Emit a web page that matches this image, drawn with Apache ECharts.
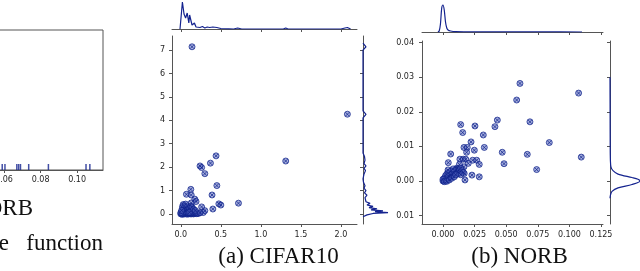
<!DOCTYPE html>
<html><head><meta charset="utf-8">
<script src="https://cdn.jsdelivr.net/npm/echarts@6/dist/echarts.min.js"></script>
<style>html,body{margin:0;padding:0;background:#fff}#c{width:640px;height:271px}</style>
</head><body><div id="c"></div>
<script>
// ---- data ----
const leftRug = [0.059, 0.0605, 0.067, 0.068, 0.069, 0.0735, 0.0843, 0.1049, 0.107];
const leftTicks = [0.00, 0.02, 0.04, 0.06, 0.08, 0.10];

const cifarX = [0.14,2.08,1.31,0.44,0.37,0.24,0.26,0.30,0.45,0.125,0.07,0.13,0.39,0.175,0.19,0.13,0.475,0.50,0.72,0.26,0.30,0.40,0.28,
  0.00,0.01,0.02,0.03,0.04,0.05,0.06,0.07,0.08,0.09,0.10,0.11,0.12,0.13,0.14,0.15,0.16,0.17,0.18,0.20,0.22,
  0.01,0.02,0.03,0.04,0.05,0.06,0.07,0.08,0.09,0.10,0.11,0.12,0.13,0.14,0.15,0.16,0.03,0.05,0.04,0.06,0.07,0.08,0.02,0.09,0.10,0.11,0.13,0.12,
  0.15,0.17,0.19,0.21,0.24,0.02,0.00,0.01,0.03,0.06,0.09,0.11,0.14,0.16,0.18];
const cifarY = [7.14,4.26,2.26,2.48,2.17,2.05,1.98,1.72,1.21,1.05,0.84,0.81,0.81,0.63,0.53,0.47,0.43,0.38,0.46,0.30,0.14,0.21,0.06,
  0.00,0.02,-0.02,0.01,0.03,0.00,0.02,0.01,-0.01,0.02,0.00,0.03,0.01,0.00,0.02,0.01,0.00,0.03,0.02,0.01,0.02,
  0.08,0.12,0.06,0.15,0.10,0.18,0.08,0.12,0.16,0.09,0.14,0.20,0.11,0.07,0.16,0.12,0.22,0.28,0.35,0.32,0.25,0.30,0.30,0.22,0.27,0.24,0.26,0.33,
  0.08,0.10,0.06,0.04,0.05,0.04,0.05,0.15,0.40,0.42,0.05,0.07,0.30,0.20,0.15];
const cifarXTicks = [0, 0.5, 1, 1.5, 2];
const cifarYTicks = [0, 1, 2, 3, 4, 5, 6, 7];
const cifarTopX = [-0.01,0.0,0.02,0.04,0.06,0.08,0.10,0.11,0.14,0.17,0.19,0.21,0.24,0.27,0.30,0.33,0.36,0.40,0.45,0.50,0.60,0.66,0.71,0.76,1.2,1.28,1.31,1.34,2.0,2.05,2.08,2.12];
const cifarTopD = [0,2,27,15,11,16,6,14,4,6,2,3,1.5,2.5,1,2,1.5,2,1.5,0.5,0.2,0,1,0,0,0,1,0,0,1,1.5,0];
const cifarRightY = [-0.12,-0.04,0.02,0.06,0.10,0.13,0.17,0.22,0.27,0.32,0.38,0.45,0.52,0.60,0.70,0.80,0.90,1.0,1.1,1.2,1.35,1.5,1.7,1.85,1.95,2.05,2.15,2.3,2.45,2.6,4.1,4.25,4.4,7.0,7.14,7.3];
const cifarRightD = [0,4,10,25,12,20,8,14,6,10,4,7,3,5,2,4,1.5,3,1,2,0.5,0,1,2.5,1,3,1,2,1.5,0,0,3,0,0,3,0];

const norbX = [0.014,0.0253,0.0411,0.043,0.0583,0.0609,0.0688,0.1073,0.0156,0.0319,0.0222,0.0841,0.0327,0.0166,0.0192,0.0061,0.0248,0.0187,0.0469,0.0667,0.0483,0.1094,0.0741,0.0042,
  0.0134,0.016,0.018,0.0235,0.0267,0.0287,0.02,0.0166,0.0229,0.0287,0.0174,0.0168,0.013,0.0108,
  0.0,0.001,0.002,0.002,0.003,0.003,0.004,0.004,0.005,0.005,0.006,0.006,0.007,0.007,0.008,0.008,0.009,0.009,0.010,0.010,0.011,0.012,0.012,0.013,0.014,
  0.001,0.002,0.003,0.004,0.0,0.001,0.003,0.005,0.007,0.009,0.011,0.013,0.015,0.016,0.014,0.006,0.008,0.004,0.010];
const norbY = [0.0163,0.0159,0.0157,0.0176,0.0234,0.0282,0.0171,0.0254,0.0140,0.0133,0.0113,0.0111,0.0097,0.0097,0.0097,0.0078,0.0089,0.0083,0.0083,0.0077,0.0050,0.0069,0.0033,0.0053,
  0.0063,0.0063,0.0063,0.0060,0.0060,0.0048,0.0051,0.0041,0.0017,0.0012,0.0003,0.0022,0.0048,0.0037,
  0.0,0.0002,0.0,0.0005,0.0003,0.001,0.0006,0.0012,0.001,0.0016,0.0012,0.002,0.0015,0.0024,0.002,0.0028,0.0022,0.003,0.0026,0.0033,0.003,0.0035,0.0028,0.0032,0.0037,
  0.0008,0.0015,0.002,0.0025,0.0005,-0.0002,-0.0001,0.0003,0.0008,0.0012,0.002,0.0022,0.003,0.0025,0.0018,0.0028,0.0035,0.0032,0.0018];
const norbXTicks = [0, 0.025, 0.05, 0.075, 0.1, 0.125];
const norbYTicks = [-0.01, 0, 0.01, 0.02, 0.03, 0.04];
const norbTopX = [-0.004,-0.003,-0.002,-0.001,0.0,0.001,0.002,0.003,0.004,0.006,0.01,0.03,0.08,0.11];
const norbTopD = [0,1,8,24,27,22,10,4,2,1,0.4,0.2,0.1,0];
const norbRightY = [-0.005,-0.004,-0.003,-0.002,-0.001,0.0,0.0005,0.001,0.002,0.003,0.004,0.006,0.01,0.02,0.03];
const norbRightD = [0,0.5,2,8,22,30,28,22,8,3,1,0.4,0.2,0.1,0];

const captions = ['(a) CIFAR10', '(b) NORB'];

// ---- styles ----
const NAVY = '#14238f';
const LINE = '#555';
const LBL = '#262626';
const FONT = 'DejaVu Sans';
const marker = 'path://M0,5A5,5 0 1,1 10,5A5,5 0 1,1 0,5Z M1.8,1.8L8.2,8.2M8.2,1.8L1.8,8.2';

function axis(o) {
  return Object.assign({
    type: 'value', splitLine: {show: false},
    axisLine: {show: true, onZero: false, lineStyle: {color: LINE, width: 1}},
    axisTick: {show: true, length: 3, lineStyle: {color: LINE, width: 1}},
    axisLabel: {show: false, fontSize: 8, color: LBL, fontFamily: FONT}
  }, o);
}
function customAxis(o, ticks, fmt, showLabel, margin) {
  return axis(Object.assign({
    axisTick: {show: true, length: 3, customValues: ticks, lineStyle: {color: LINE, width: 1}},
    axisLabel: {show: showLabel, customValues: ticks, formatter: fmt, fontSize: 8, color: LBL, fontFamily: FONT, margin: margin || 7}
  }, o));
}
const zip = (a, b) => a.map((v, i) => [v, b[i]]);

const cifarYRange = {min: -0.43, max: 7.6};
const norbYRange = {min: -0.01243, max: 0.04046};

const grids = [
  {left: -105.5, top: 30, width: 208.5, height: 140, show: true, borderColor: LINE, borderWidth: 1},
  {left: 172, top: 36, width: 185, height: 188},
  {left: 172, top: 0, width: 185, height: 29},
  {left: 363, top: 36, width: 30, height: 188},
  {left: 422, top: 41, width: 181, height: 183},
  {left: 422, top: 0, width: 181, height: 32},
  {left: 610, top: 41, width: 30, height: 183}
].map(g => Object.assign({outerBoundsMode: 'none', containLabel: false}, g));

const option = {
  animation: false,
  backgroundColor: '#fff',
  grid: grids,
  xAxis: [
    customAxis({gridIndex: 0, min: 0, max: 0.1142}, leftTicks, v => v.toFixed(2), true, 6),
    customAxis({gridIndex: 1, min: -0.11, max: 2.2}, cifarXTicks, v => v.toFixed(1), true),
    customAxis({gridIndex: 2, min: -0.11, max: 2.2}, cifarXTicks, null, false),
    axis({gridIndex: 3, min: 0, max: 30, show: false}),
    customAxis({gridIndex: 4, min: -0.0166, max: 0.1266}, norbXTicks, v => v.toFixed(3), true),
    customAxis({gridIndex: 5, min: -0.0166, max: 0.1266}, norbXTicks, null, false),
    axis({gridIndex: 6, min: 0, max: 30, show: false})
  ],
  yAxis: [
    axis({gridIndex: 0, min: 0, max: 1, show: false}),
    customAxis(Object.assign({gridIndex: 1}, cifarYRange), cifarYTicks, v => String(Math.round(v)), true),
    axis({gridIndex: 2, min: 0, max: 29, show: false}),
    customAxis(Object.assign({gridIndex: 3}, cifarYRange), cifarYTicks, null, false),
    customAxis(Object.assign({gridIndex: 4}, norbYRange), norbYTicks, v => Math.abs(v).toFixed(2), true, 8),
    axis({gridIndex: 5, min: 0, max: 32, show: false}),
    customAxis(Object.assign({gridIndex: 6}, norbYRange), norbYTicks, null, false)
  ],
  series: [
    {type: 'scatter', xAxisIndex: 0, yAxisIndex: 0, data: leftRug.map(v => [v, 0]),
      symbol: 'rect', symbolSize: [1.5, 6], symbolOffset: [0, -3], itemStyle: {color: NAVY}},
    {type: 'scatter', xAxisIndex: 1, yAxisIndex: 1, data: zip(cifarX, cifarY),
      symbol: marker, symbolSize: 6,
      itemStyle: {color: 'rgba(80,98,190,0.65)', borderColor: '#0b1f87', borderWidth: 0.9}},
    {type: 'line', xAxisIndex: 2, yAxisIndex: 2, data: zip(cifarTopX, cifarTopD), showSymbol: false,
      lineStyle: {color: NAVY, width: 1.2}},
    {type: 'line', xAxisIndex: 3, yAxisIndex: 3, data: zip(cifarRightD, cifarRightY), showSymbol: false,
      lineStyle: {color: NAVY, width: 1.2}},
    {type: 'scatter', xAxisIndex: 4, yAxisIndex: 4, data: zip(norbX, norbY),
      symbol: marker, symbolSize: 6,
      itemStyle: {color: 'rgba(80,98,190,0.65)', borderColor: '#0b1f87', borderWidth: 0.9}},
    {type: 'line', xAxisIndex: 5, yAxisIndex: 5, data: zip(norbTopX, norbTopD), showSymbol: false, smooth: 0.3,
      lineStyle: {color: NAVY, width: 1.2}},
    {type: 'line', xAxisIndex: 6, yAxisIndex: 6, data: zip(norbRightD, norbRightY), showSymbol: false, smooth: 0.3,
      lineStyle: {color: NAVY, width: 1.2}}
  ],
  graphic: [
    {type: 'text', style: {text: captions[0], x: 278.5, y: 257, align: 'center', verticalAlign: 'middle',
      font: '23px "Liberation Serif"', fill: '#111'}},
    {type: 'text', style: {text: captions[1], x: 519.5, y: 257, align: 'center', verticalAlign: 'middle',
      font: '23px "Liberation Serif"', fill: '#111'}},
    {type: 'text', style: {text: 'ORB', x: 33, y: 209, align: 'right', verticalAlign: 'middle',
      font: '23px "Liberation Serif"', fill: '#111'}},
    {type: 'text', style: {text: 'e', x: 9, y: 244, align: 'right', verticalAlign: 'middle',
      font: '23px "Liberation Serif"', fill: '#111'}},
    {type: 'text', style: {text: 'function', x: 103, y: 244, align: 'right', verticalAlign: 'middle',
      font: '23px "Liberation Serif"', fill: '#111'}}
  ]
};
const chart = echarts.init(document.getElementById('c'), null, {renderer: 'canvas'});
chart.setOption(option);
</script>
</body></html>
